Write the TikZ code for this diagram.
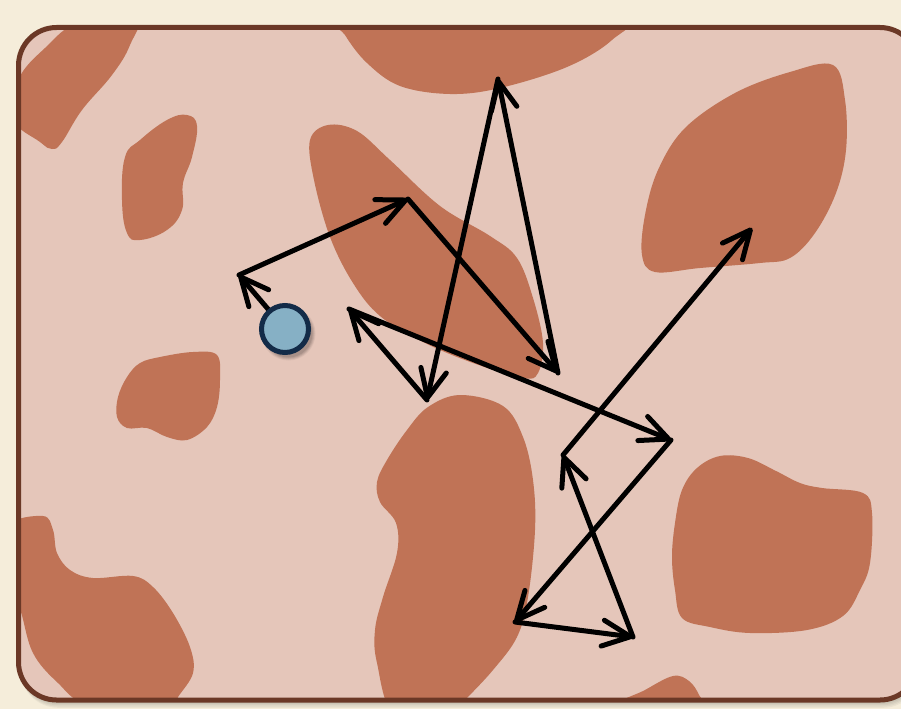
\documentclass[tikz,border=0pt]{standalone}
\usetikzlibrary{arrows.meta}
\definecolor{bgc}{HTML}{F5EDDA}
\definecolor{panel}{HTML}{E5C6BA}
\definecolor{blob}{HTML}{C07356}
\definecolor{frame}{HTML}{6B3826}
\definecolor{dotfill}{HTML}{86B0C5}
\definecolor{dotline}{HTML}{132B48}
\pgfdeclarelayer{front}
\pgfsetlayers{main,front}
\tikzset{
  blobshape/.style={fill=blob, draw=none},
  walk/.style={line width=5pt, -{Straight Barb[length=28pt, width=26pt, round]}, line cap=round, line join=round},
  dot/.style={circle, minimum size=47pt, inner sep=0pt, line width=5pt, draw=dotline, fill=dotfill},
}
\begin{document}
\begin{tikzpicture}[x=1pt, y=-1pt]
\useasboundingbox (0,0) rectangle (901,709);
\fill[bgc] (0,0) rectangle (901,709);
% panel shadow
\foreach \s in {1,...,6}
  \fill[black, opacity=0.045, rounded corners=38pt] (18.5+0.3*\s,27.5+0.8*\s) rectangle (918+0.5*\s,700+1.3*\s);
\fill[panel, rounded corners=38pt] (18.5,27.5) rectangle (918,700);
\begin{scope}
  \clip[rounded corners=38pt] (18.5,27.5) rectangle (918,700);
  % A top-left
  \fill[blobshape] plot[smooth cycle, tension=0.7] coordinates {(135,18) (130,45) (112,75) (82,110) (62,142) (52,149) (40,142) (12,118) (18,80) (45,48) (80,22)};
  % B
  \fill[blobshape] plot[smooth cycle, tension=0.7] coordinates {(187,115) (197,126) (192,157) (183,183) (182,210) (167,230) (140,240) (127,233) (122,200) (125,157) (140,140) (167,120)};
  % C top centre
  \fill[blobshape] plot[smooth cycle, tension=0.6] coordinates {(335,12) (345,35) (367,63) (400,86) (450,94) (500,88) (567,67) (612,40) (628,12) (480,5)};
  % D diagonal
  \fill[blobshape] plot[smooth cycle, tension=0.6] coordinates {(310,140) (328,125) (357,131) (390,160) (440,206) (490,236) (517,258) (533,298) (543,343) (538,373) (523,378) (473,363) (423,342) (380,316) (353,283) (330,237) (314,180)};
  % E top right
  \fill[blobshape] plot[smooth cycle, tension=0.6] coordinates {(833,65) (845,100) (846,150) (836,193) (815,233) (790,258) (760,263) (700,268) (655,272) (642,255) (645,215) (658,170) (685,128) (735,93) (790,72)};
  % F small left
  \fill[blobshape] plot[smooth cycle, tension=0.6] coordinates {(217,355) (220,380) (217,407) (207,427) (187,440) (167,437) (147,428) (127,428) (117,417) (118,397) (127,377) (140,363) (160,357) (193,352)};
  % G bottom centre
  \fill[blobshape] plot[smooth cycle, tension=0.6] coordinates {(460,395) (503,406) (523,437) (533,480) (535,530) (528,597) (517,637) (493,670) (465,700) (450,715) (395,715) (377,663) (375,630) (383,597) (397,553) (396,523) (380,502) (377,482) (387,460) (407,430) (428,407)};
  % H bottom right
  \fill[blobshape] plot[smooth cycle, tension=0.6] coordinates {(720,456) (748,458) (776,471) (800,483) (822,488) (863,493) (872,513) (870,563) (860,590) (843,616) (807,630) (750,633) (710,627) (682,618) (675,590) (672,557) (675,523) (682,490) (697,468)};
  % I bottom left
  \fill[blobshape] plot[smooth cycle, tension=0.6] coordinates {(8,526) (43,516) (53,530) (57,553) (70,570) (93,578) (133,576) (153,587) (173,613) (190,647) (193,673) (178,697) (168,712) (90,706) (57,682) (33,653) (21,612) (8,570)};
  % J bottom small
  \fill[blobshape] plot[smooth cycle, tension=0.6] coordinates {(615,708) (645,690) (673,676) (689,681) (699,695) (703,712)};
\end{scope}
\draw[frame, line width=5pt, rounded corners=38pt] (18.5,27.5) rectangle (918,700);
% walk points
\coordinate (p1) at (239,275);
\coordinate (p2) at (408,199);
\coordinate (p3) at (558,373);
\coordinate (p4) at (498,79);
\coordinate (p5) at (427,400);
\coordinate (p6) at (349,309);
\coordinate (p7) at (671,440);
\coordinate (p8) at (515,622);
\coordinate (p9) at (633,637);
\coordinate (p10) at (563,455);
\coordinate (p11) at (752,228);
\begin{pgfonlayer}{front}
  \foreach \r/\o in {27/0.05, 26/0.07, 25/0.08, 24/0.09}
    \fill[black, opacity=\o] (288.5,333.5) circle (\r pt);
  \node[dot] (c) at (285,329) {};
\end{pgfonlayer}
\draw[walk] (c) -- (p1);
\draw[walk] (p1) -- (p2);
\draw[walk] (p2) -- (p3);
\draw[walk] (p3) -- (p4);
\draw[walk] (p4) -- (p5);
\draw[walk] (p5) -- (p6);
\draw[walk] (p6) -- (p7);
\draw[walk] (p7) -- (p8);
\draw[walk] (p8) -- (p9);
\draw[walk] (p9) -- (p10);
\draw[walk] (p10) -- (p11);
\end{tikzpicture}
\end{document}
